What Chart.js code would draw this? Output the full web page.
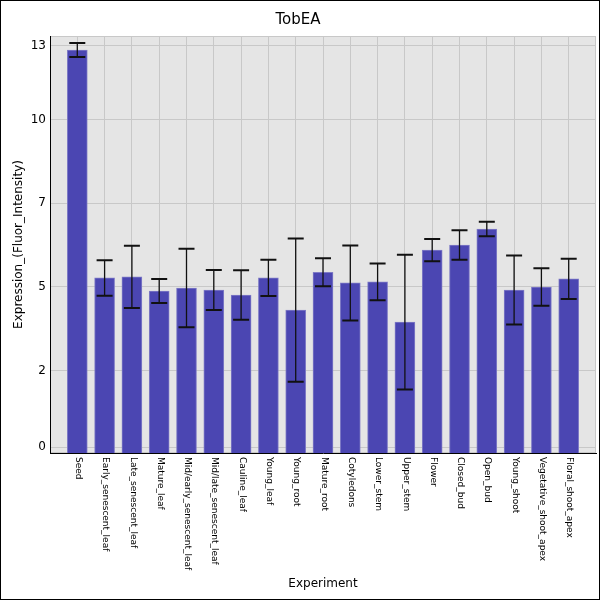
<!DOCTYPE html>
<html>
<head>
<meta charset="utf-8">
<script src="https://cdn.jsdelivr.net/npm/chart.js@4.4.1/dist/chart.umd.min.js"></script>
<style>
  html, body { margin: 0; padding: 0; background: #fff; }
  canvas { display: block; }
</style>
</head>
<body>
<canvas id="chart" width="600" height="600"></canvas>
<script>
// --- Data ---
const experiments = [
  "Seed", "Early_senescent_leaf", "Late_senescent_leaf", "Mature_leaf",
  "Mid/early_senescent_leaf", "Mid/late_senescent_leaf", "Cauline_leaf",
  "Young_leaf", "Young_root", "Mature_root", "Cotyledons", "Lower_stem",
  "Upper_stem", "Flower", "Closed_bud", "Open_bud", "Young_shoot",
  "Vegetative_shoot_apex", "Floral_shoot_apex"
];
const expression = [
  12.07, 5.27, 5.30, 4.88, 4.97, 4.91, 4.76, 5.27, 4.31, 5.44,
  5.12, 5.15, 3.95, 6.10, 6.25, 6.73, 4.91, 5.00, 5.24
];
const stdError = [
  0.21, 0.53, 0.93, 0.36, 1.17, 0.60, 0.74, 0.54, 2.14, 0.42,
  1.12, 0.55, 2.01, 0.33, 0.44, 0.22, 1.03, 0.56, 0.60
];
const yTickValues = [0.215, 2.5, 5, 7.5, 10, 12.21];
const yTickLabels = ["0", "2", "5", "7", "10", "13"];

const FONT = "DejaVu Sans";

// --- Plugins ---
const backdropPlugin = {
  id: "backdrop",
  beforeDraw(chart) {
    const { ctx, chartArea: a } = chart;
    ctx.save();
    ctx.fillStyle = "#e5e5e5";
    ctx.fillRect(a.left, a.top, a.right - a.left, a.bottom - a.top);
    ctx.strokeStyle = "#c8c8c8";
    ctx.lineWidth = 1;
    ctx.strokeRect(a.left + 0.5, a.top + 0.5, a.right - a.left - 1, a.bottom - a.top - 1);
    ctx.restore();
  },
  afterDraw(chart) {
    const { ctx, width, height } = chart;
    ctx.save();
    ctx.strokeStyle = "#000";
    ctx.lineWidth = 1;
    ctx.strokeRect(0.5, 0.5, width - 1, height - 1);
    ctx.restore();
  }
};

const errorBarPlugin = {
  id: "errorBars",
  afterDatasetsDraw(chart) {
    const { ctx } = chart;
    const xs = chart.scales.x;
    const ys = chart.scales.y;
    ctx.save();
    ctx.strokeStyle = "#111";
    expression.forEach((v, i) => {
      const x = xs.getPixelForValue(i);
      const top = ys.getPixelForValue(v + stdError[i]);
      const bot = ys.getPixelForValue(v - stdError[i]);
      ctx.lineWidth = 1.3;
      ctx.beginPath();
      ctx.moveTo(x, top);
      ctx.lineTo(x, bot);
      ctx.stroke();
      ctx.lineWidth = 2;
      ctx.beginPath();
      ctx.moveTo(x - 8, top);
      ctx.lineTo(x + 8, top);
      ctx.moveTo(x - 8, bot);
      ctx.lineTo(x + 8, bot);
      ctx.stroke();
    });
    ctx.restore();
  }
};

// x labels read top to bottom, so they are drawn here
const xLabelPlugin = {
  id: "xLabels",
  afterDraw(chart) {
    const { ctx } = chart;
    const xs = chart.scales.x;
    ctx.save();
    ctx.fillStyle = "#000";
    ctx.font = "9px '" + FONT + "'";
    ctx.textAlign = "left";
    ctx.textBaseline = "middle";
    experiments.forEach((name, i) => {
      ctx.save();
      ctx.translate(xs.getPixelForValue(i) + 1, chart.chartArea.bottom + 4);
      ctx.rotate(Math.PI / 2);
      ctx.fillText(name, 0, 0);
      ctx.restore();
    });
    ctx.restore();
  }
};

// --- Chart ---
const ctx = document.getElementById("chart").getContext("2d");
new Chart(ctx, {
  type: "bar",
  data: {
    datasets: [{
      data: expression.map((v, i) => ({ x: i, y: v })),
      backgroundColor: "#4b46b2",
      borderColor: "#7f7bc6",
      borderWidth: 1,
      barThickness: 20
    }]
  },
  plugins: [backdropPlugin, errorBarPlugin, xLabelPlugin],
  options: {
    responsive: false,
    animation: false,
    devicePixelRatio: 1,
    layout: { padding: { left: 0, right: 4, top: 0, bottom: 0 } },
    plugins: {
      legend: { display: false },
      tooltip: { enabled: false },
      title: {
        display: true,
        text: "TobEA",
        color: "#000",
        font: { family: FONT, size: 15, weight: "normal" },
        padding: { top: 11, bottom: 7 }
      }
    },
    scales: {
      x: {
        type: "linear",
        offset: false,
        min: -1,
        max: 19,
        afterBuildTicks(scale) {
          scale.ticks = experiments.map((_, i) => ({ value: i }));
        },
        afterFit(scale) { scale.height = 147; },
        ticks: { display: false },
        grid: { color: "#c8c8c8", lineWidth: 1, drawTicks: false, offset: false },
        border: { display: true, color: "#000", width: 1 },
        title: {
          display: true,
          text: "Experiment",
          color: "#000",
          font: { family: FONT, size: 12 },
          padding: { top: 4, bottom: 9 }
        }
      },
      y: {
        min: 0.045,
        max: 12.49,
        afterBuildTicks(scale) {
          scale.ticks = yTickValues.map((v) => ({ value: v }));
        },
        afterFit(scale) { scale.width = 50; },
        ticks: {
          color: "#000",
          font: { family: FONT, size: 12 },
          padding: 4,
          callback: (v, i) => yTickLabels[i]
        },
        grid: { color: "#c8c8c8", lineWidth: 1, drawTicks: false },
        border: { display: true, color: "#000", width: 1 },
        title: {
          display: true,
          text: "Expression_(Fluor_Intensity)",
          color: "#000",
          font: { family: FONT, size: 12 },
          padding: { top: 12, bottom: 0 }
        }
      }
    }
  }
});
</script>
</body>
</html>
